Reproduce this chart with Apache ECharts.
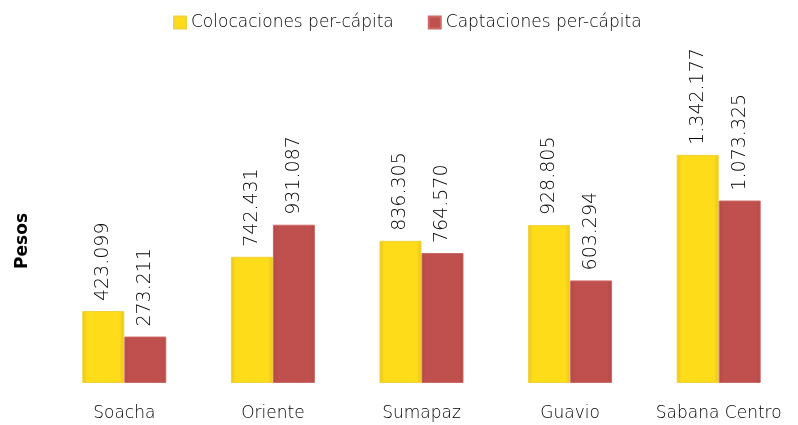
<!DOCTYPE html>
<html>
<head>
<meta charset="utf-8">
<script src="https://cdn.jsdelivr.net/npm/echarts@6/dist/echarts.min.js"></script>
<style>
  html, body { margin: 0; padding: 0; background: #fff; }
  #chart { width: 798px; height: 425px; }
</style>
</head>
<body>
<div id="chart"></div>
<script>
var categories = ['Soacha', 'Oriente', 'Sumapaz', 'Guavio', 'Sabana Centro'];
var colocaciones = [423099, 742431, 836305, 928805, 1342177];
var captaciones = [273211, 931087, 764570, 603294, 1073325];

function fmt(v) {
    return String(v).replace(/\B(?=(\d{3})+(?!\d))/g, '.');
}

// simple bevel look: darker edges, flat middle
function bevel(mid, edge) {
    return {
        type: 'linear', x: 0, y: 0, x2: 1, y2: 0,
        colorStops: [
            { offset: 0, color: edge },
            { offset: 0.12, color: mid },
            { offset: 0.88, color: mid },
            { offset: 1, color: edge }
        ]
    };
}

var myChart = echarts.init(document.getElementById('chart'));
var labelStyle = {
    show: true,
    position: 'top',
    rotate: 90,
    align: 'left',
    verticalAlign: 'middle',
    distance: 10,
    fontFamily: 'DejaVu Sans',
    fontWeight: 300,
    fontSize: 19,
    color: '#000',
    formatter: function (p) { return fmt(p.value); }
};
var options = {
    animation: false,
    textStyle: { fontFamily: 'DejaVu Sans' },
    legend: {
        top: 9,
        left: 168,
        icon: 'rect',
        itemWidth: 12,
        itemHeight: 12,
        itemGap: 34,
        textStyle: { fontSize: 17, color: '#000', fontWeight: 300 },
        data: ['Colocaciones per-cápita', 'Captaciones per-cápita']
    },
    grid: { left: 50, right: 5, top: 43, bottom: 42 },
    xAxis: {
        type: 'category',
        data: categories,
        axisLine: { show: false },
        axisTick: { show: false },
        axisLabel: { fontSize: 17, color: '#000', margin: 22, fontWeight: 300, interval: 0, hideOverlap: false }
    },
    yAxis: {
        type: 'value',
        min: 0,
        max: 2000000,
        axisLine: { show: false },
        axisTick: { show: false },
        axisLabel: { show: false },
        splitLine: { show: false }
    },
    graphic: [{
        type: 'text',
        left: 14,
        top: 213,
        rotation: Math.PI / 2,
        style: { text: 'Pesos', fontSize: 17, fontWeight: 'bold', fill: '#000', fontFamily: 'DejaVu Sans' }
    }],
    series: [{
        name: 'Colocaciones per-cápita',
        type: 'bar',
        barWidth: 42,
        barGap: '0%',
        data: colocaciones,
        itemStyle: {
            color: bevel('#FFDC1A', '#E8C51A'),
            borderColor: '#F2D23A',
            borderWidth: 1
        },
        label: labelStyle
    }, {
        name: 'Captaciones per-cápita',
        type: 'bar',
        barWidth: 42,
        barGap: '0%',
        data: captaciones,
        itemStyle: {
            color: bevel('#C0504D', '#B04A47'),
            borderColor: '#CC6A67',
            borderWidth: 1
        },
        label: labelStyle
    }],
    color: ['#FFDC1A', '#C0504D']
};
myChart.setOption(options);
</script>
</body>
</html>
